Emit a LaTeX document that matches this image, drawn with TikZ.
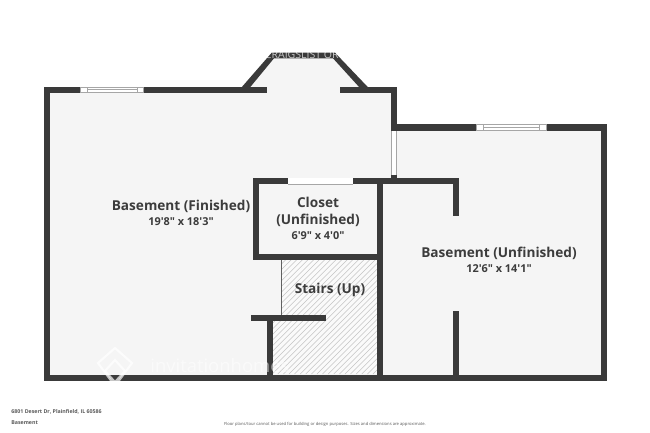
\documentclass[tikz,border=0pt]{standalone}
\usepackage{fontspec}
\setmainfont[Ligatures=TeXOff]{Open Sans}
\usetikzlibrary{patterns}
\definecolor{wallc}{HTML}{3A3A3A}
\definecolor{floorc}{HTML}{F5F5F5}
\definecolor{labelc}{HTML}{3C3C3C}
\definecolor{hatchc}{HTML}{C4C4C4}
\tikzset{
  x=0.02cm,y=-0.02cm,
  wall/.style={fill=wallc,draw=none},
  room/.style={fill=floorc,draw=none},
  winline/.style={draw=black!35,line width=0.35pt},
  hatch/.style={draw=hatchc,line width=0.3pt},
  name1/.style={font=\bfseries\fontsize{7.75}{10}\selectfont,text=labelc,align=center,inner sep=0pt},
  dims/.style={font=\bfseries\fontsize{6.2}{8}\selectfont,text=labelc,align=center,inner sep=0pt},
  foot/.style={font=\bfseries\fontsize{3}{4}\selectfont,text=labelc!85,inner sep=0pt},
  mark1/.style={text=white,inner sep=0pt}
}
\begin{document}
\begin{tikzpicture}
\useasboundingbox (0,0) rectangle (650,433);
\fill[white] (0,0) rectangle (650,433);
% floor
\fill[room] (46,89) -- (245,89) -- (273,55) -- (337,55) -- (365,89) -- (394,89) -- (394,127) -- (603,127) -- (603,377) -- (46,377) -- cycle;
% stairs
\fill[white!50!floorc] (281,260) rectangle (377,315);
\fill[white!50!floorc] (273,315) rectangle (377,374);
\begin{scope}
\clip (281.5,260) -- (377,260) -- (377,374) -- (273,374) -- (273,315) -- (281.5,315) -- cycle;
\foreach \k in {-120,-114.4,...,250} \draw[hatch] (273+\k-60,374) -- (273+\k+60,254);
\end{scope}
\draw[draw=wallc!80,line width=0.8pt] (281.3,260) -- (281.3,315);
% outer walls
\fill[wall] (43.5,86.7) rectangle (80,92.5);
\fill[wall] (143,86.7) rectangle (267,92.5);
\fill[wall] (340,86.7) rectangle (396.8,92.5);
\fill[wall] (43.5,86.7) rectangle (49.5,380.5);
\fill[wall] (43.5,374.5) rectangle (606.7,380.5);
\fill[wall] (390.8,86.7) rectangle (396.8,131);
\fill[wall] (390.8,175) rectangle (396.8,184);
\fill[wall] (396,124) rectangle (476,130.5);
\fill[wall] (546,124) rectangle (606.7,130.5);
\fill[wall] (600.5,124) rectangle (606.7,380.5);
% bay
\fill[wall] (241,88) -- (271.7,52.7) -- (335,52.7) -- (368.7,88) -- (360,88) -- (333,58.3) -- (274,58.3) -- (249.5,88) -- cycle;
% inner walls
\fill[wall] (252.7,178.3) rectangle (288.3,184.3);
\fill[wall] (352.7,178.3) rectangle (459.3,184.3);
\fill[wall] (252.7,178.3) rectangle (259.3,260);
\fill[wall] (252.7,254.3) rectangle (383,260);
\fill[wall] (376.7,178.3) rectangle (383.3,380);
\fill[wall] (453.3,178.3) rectangle (459.3,215.7);
\fill[wall] (453.3,310.7) rectangle (459.3,380);
\fill[wall] (250.7,315) rectangle (326,321);
\fill[wall] (267.3,315) rectangle (273.3,380);
% windows
\fill[white] (80,86.7) rectangle (143,92.5);
\draw[winline] (80,86.9) rectangle (143,92.3);
\draw[winline,fill=white] (87,86.9) rectangle (137,92.3);
\draw[winline] (87,89.6) -- (137,89.6);
\fill[white] (476,124) rectangle (546,130.5);
\draw[winline] (476,124.3) rectangle (546,130.2);
\draw[winline] (483,124.3) rectangle (539,130.2);
\draw[winline] (483,127.2) -- (539,127.2);
\fill[white] (390.8,131) rectangle (396.8,175);
\draw[winline] (391,131) -- (391,175);
\draw[winline] (396.5,131) -- (396.5,175);
\fill[white] (288.3,178.3) rectangle (352.7,184.3);
\draw[winline] (288.3,184.2) -- (352.7,184.2);
% watermark
\node[mark1,anchor=east,font=\fontsize{6}{7}\selectfont,opacity=0.7] (wmtop) at (339,55) {CRAIGSLIST OR};
\node[mark1,anchor=west,font=\fontsize{10.5}{12}\selectfont,opacity=0.55] (wmbot) at (150,366) {invitationhomes};
\draw[white,opacity=0.7,line width=1.2pt] (115,348) -- (132,363) -- (115,386) -- (98,363) -- cycle;
\draw[white,opacity=0.7,line width=1.2pt] (115,360) -- (125,371) -- (115,382) -- (105,371) -- cycle;
% labels
\node[name1] (lb1) at (181,206) {Basement (Finished)};
\node[dims] (ld1) at (181,222) {19'8" x 18'3"};
\node[name1] (lb2) at (318,202.5) {Closet};
\node[name1] (lb2b) at (318,220) {(Unfinished)};
\node[dims] (ld2) at (318,236) {6'9" x 4'0"};
\node[name1] (lb3) at (330,289.5) {Stairs (Up)};
\node[name1] (lb4) at (499,253) {Basement (Unfinished)};
\node[dims] (ld4) at (499,269) {12'6" x 14'1"};
\node[foot,anchor=west] (f1) at (11,411.5) {6801 Desert Dr, Plainfield, IL 60586};
\node[foot,anchor=west] (f2) at (11,422.5) {Basement};
\node[foot,font=\fontsize{2.36}{3}\selectfont] (f3) at (325,424.5) {Floor plans/tour cannot be used for building or design purposes. Sizes and dimensions are approximate.};
\end{tikzpicture}
\end{document}
